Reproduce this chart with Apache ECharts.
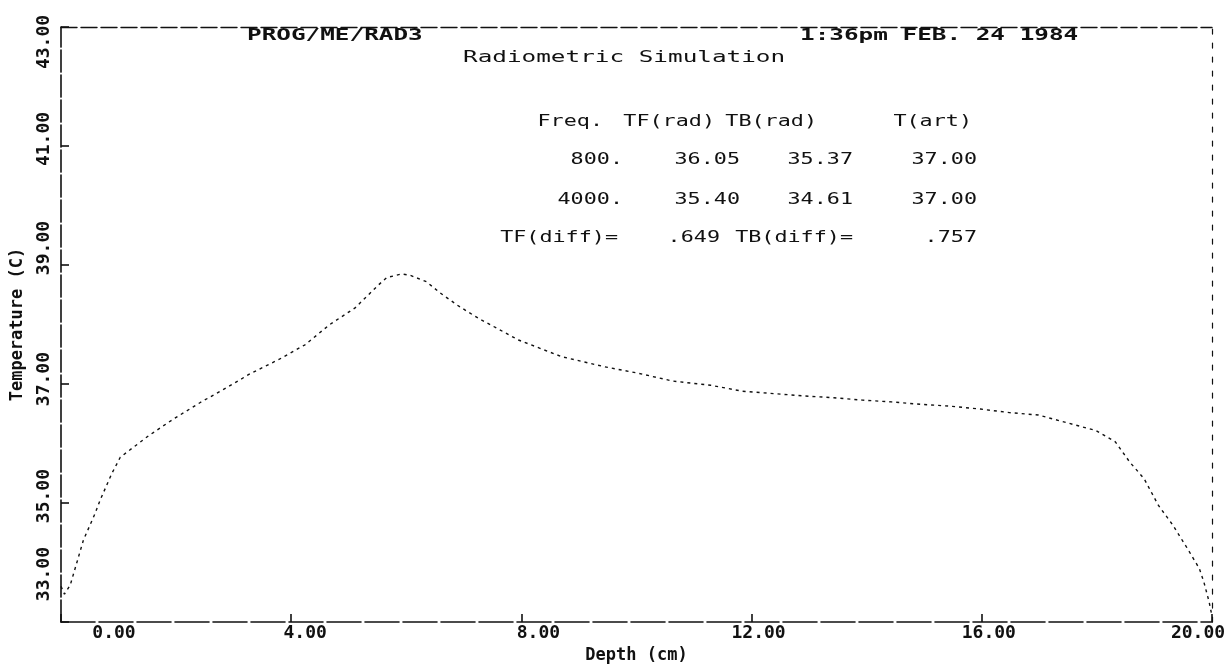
<!DOCTYPE html>
<html>
<head>
<meta charset="utf-8">
<script src="https://cdn.jsdelivr.net/npm/echarts@6/dist/echarts.min.js"></script>
<style>
  html, body { margin: 0; padding: 0; background: #fff; }
  #chart { width: 1229px; height: 669px; }
</style>
</head>
<body>
<div id="chart"></div>
<script>
// Simulated temperature profile through tissue depth
const depth = [
  0.00, 0.06, 0.16, 0.39, 0.59, 0.68, 0.88, 1.03,
  1.52, 1.95, 2.42, 2.88, 3.28, 3.78, 4.24, 4.67, 5.11, 5.51, 5.66,
  5.92, 6.06, 6.35, 6.59, 6.88, 7.16, 7.32, 7.57, 7.95,
  8.70, 9.45, 10.04, 10.63, 11.29, 11.84, 12.38, 12.92, 13.43, 13.93,
  14.43, 14.93, 15.43, 15.98, 16.48, 16.98, 17.48, 17.98, 18.32, 18.57,
  18.82, 19.07, 19.32, 19.57, 19.78, 19.86, 19.95, 20.00
];
const temperature = [
  33.60, 33.47, 33.62, 34.38, 34.82, 35.05, 35.49, 35.77,
  36.13, 36.41, 36.69, 36.94, 37.17, 37.41, 37.66, 38.00, 38.28, 38.66, 38.79,
  38.85, 38.83, 38.72, 38.53, 38.33, 38.16, 38.07, 37.94, 37.74,
  37.46, 37.29, 37.18, 37.05, 36.98, 36.88, 36.84, 36.80, 36.77, 36.73,
  36.70, 36.66, 36.63, 36.58, 36.52, 36.48, 36.35, 36.22, 36.03, 35.69,
  35.41, 34.96, 34.63, 34.24, 33.90, 33.67, 33.34, 33.10
];

const xTicks = [0, 4, 8, 12, 16, 20];
const xTickLabels = ['0.00', '4.00', '8.00', '12.00', '16.00', '20.00'];
const yTicks = [33, 35, 37, 39, 41, 43];
const yTickLabels = ['33.00', '35.00', '37.00', '39.00', '41.00', '43.00'];

// Radiometric results table
const tableHeader = ['Freq.', 'TF(rad)', 'TB(rad)', 'T(art)'];
const freqs = ['800.', '4000.'];
const tfRad = ['36.05', '35.40'];
const tbRad = ['35.37', '34.61'];
const tArt = ['37.00', '37.00'];
const tfDiff = '.649';
const tbDiff = '.757';

const progName = 'PROG/ME/RAD3';
const stamp = '1:36pm FEB. 24 1984';
const title = 'Radiometric Simulation';

// plotter-style label placement (pixel nudges along each axis)
const xLabelShift = [53, 14, 17, 7, 7, -14];   // + = right
const yLabelShift = [-48, -7, -5, -17, -7, 15]; // + = down

const MONO = '"DejaVu Sans Mono", "Liberation Mono", monospace';
const INK = '#111';

function richFrom(prefix, shifts, rotated) {
  const rich = {};
  shifts.forEach((d, i) => {
    let pad;
    if (!rotated) {
      pad = d >= 0 ? [0, 0, 0, 2 * d] : [0, -2 * d, 0, 0];
    } else {
      // rotated text reads upward: left padding moves it up
      const up = -d;
      pad = up >= 0 ? [0, 0, 0, 2 * up] : [0, -2 * up, 0, 0];
    }
    rich[prefix + i] = {
      padding: pad, fontFamily: MONO, fontSize: 18, fontWeight: 'bold', color: INK
    };
  });
  return rich;
}

const chart = echarts.init(document.getElementById('chart'), null, { renderer: 'canvas' });

function txt(str, x, y, align, size, weight, sx) {
  return {
    type: 'text', x: x, y: y, scaleX: sx, silent: true,
    style: {
      text: str, fill: INK,
      font: weight + ' ' + size + 'px ' + MONO,
      align: align, verticalAlign: 'middle',
      textAlign: align, textVerticalAlign: 'middle'
    }
  };
}

const HS = 1.52; // header stretch
const TS = 1.45; // table stretch
const colRight = [623, 740, 853, 977];
const rowY = [122, 160, 200, 238];

const graphics = [
  txt(progName, 247, 36, 'left', 16, 'bold', HS),
  txt(stamp, 800, 36, 'left', 16, 'bold', HS),
  txt(title, 463, 58, 'left', 16, 'normal', HS),
  txt(tableHeader[0], 603, rowY[0], 'right', 15, 'normal', TS),
  txt(tableHeader[1], 715, rowY[0], 'right', 15, 'normal', TS),
  txt(tableHeader[2], 817, rowY[0], 'right', 15, 'normal', TS),
  txt(tableHeader[3], 972, rowY[0], 'right', 15, 'normal', TS)
];
for (let r = 0; r < freqs.length; r++) {
  const cells = [freqs[r], tfRad[r], tbRad[r], tArt[r]];
  cells.forEach((c, k) => graphics.push(txt(c, colRight[k], rowY[r + 1], 'right', 15, 'normal', TS)));
}
graphics.push(txt('TF(diff)=', 618, rowY[3], 'right', 15, 'normal', TS));
graphics.push(txt(tfDiff, 720, rowY[3], 'right', 15, 'normal', TS));
graphics.push(txt('TB(diff)=', 853, rowY[3], 'right', 15, 'normal', TS));
graphics.push(txt(tbDiff, 977, rowY[3], 'right', 15, 'normal', TS));

const option = {
  backgroundColor: '#fff',
  animation: false,
  grid: { left: 61, right: 17, top: 27, bottom: 43, containLabel: false },
  xAxis: [
    {
      type: 'value', min: 0, max: 20, position: 'bottom',
      name: 'Depth (cm)', nameLocation: 'middle', nameGap: 22,
      nameTextStyle: { fontFamily: MONO, fontSize: 17, fontWeight: 'bold', color: INK },
      axisLine: { show: true, onZero: false, lineStyle: { color: INK, width: 1.6, type: [34, 4] } },
      axisTick: { show: true, inside: true, length: 8, customValues: xTicks, lineStyle: { color: INK, width: 1.6 } },
      axisLabel: {
        show: true, margin: 2, customValues: xTicks, color: INK,
        fontFamily: MONO, fontSize: 18, fontWeight: 'bold',
        formatter: v => { const i = xTicks.indexOf(v); return '{x' + i + '|' + xTickLabels[i] + '}'; },
        rich: richFrom('x', xLabelShift, false)
      },
      splitLine: { show: false }
    },
    {
      type: 'value', min: 0, max: 20, position: 'top',
      axisLine: { show: true, onZero: false, lineStyle: { color: INK, width: 1.4, type: [16, 4] } },
      axisTick: { show: false }, axisLabel: { show: false }, splitLine: { show: false }
    }
  ],
  yAxis: [
    {
      type: 'value', min: 33, max: 43, position: 'left',
      name: 'Temperature (C)', nameLocation: 'middle', nameGap: 35,
      nameTextStyle: { fontFamily: MONO, fontSize: 17, fontWeight: 'bold', color: INK },
      axisLine: { show: true, onZero: false, lineStyle: { color: INK, width: 1.6, type: [22, 3] } },
      axisTick: { show: true, inside: true, length: 8, customValues: yTicks, lineStyle: { color: INK, width: 1.6 } },
      axisLabel: {
        show: true, margin: 8, rotate: 90, customValues: yTicks, color: INK,
        fontFamily: MONO, fontSize: 18, fontWeight: 'bold',
        formatter: v => { const i = yTicks.indexOf(v); return '{y' + i + '|' + yTickLabels[i] + '}'; },
        rich: richFrom('y', yLabelShift, true)
      },
      splitLine: { show: false }
    },
    {
      type: 'value', min: 33, max: 43, position: 'right',
      axisLine: { show: true, onZero: false, lineStyle: { color: INK, width: 1.2, type: [5, 9] } },
      axisTick: { show: false }, axisLabel: { show: false }, splitLine: { show: false }
    }
  ],
  series: [
    {
      type: 'line',
      data: depth.map((d, i) => [d, temperature[i]]),
      xAxisIndex: 0, yAxisIndex: 0,
      showSymbol: false, symbol: 'none', smooth: false,
      lineStyle: { color: INK, width: 1.4, type: [3, 4] }
    }
  ],
  graphic: graphics
};

chart.setOption(option);
</script>
</body>
</html>
